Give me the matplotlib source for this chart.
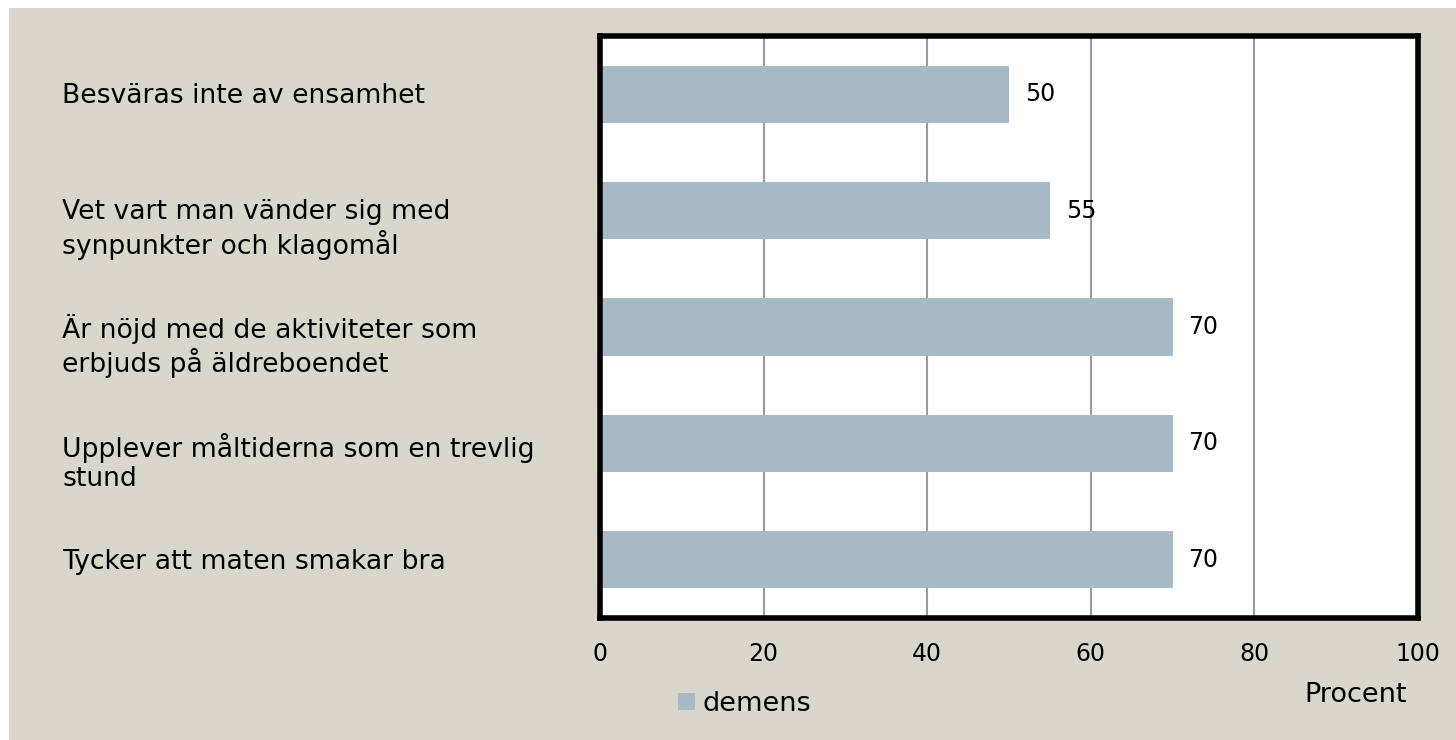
import matplotlib.pyplot as plt
from matplotlib.patches import Rectangle
from matplotlib.transforms import blended_transform_factory

# Data
categories = [
    'Besväras inte av ensamhet',
    'Vet vart man vänder sig med\nsynpunkter och klagomål',
    'Är nöjd med de aktiviteter som\nerbjuds på äldreboendet',
    'Upplever måltiderna som en trevlig\nstund',
    'Tycker att maten smakar bra',
]
values = [50, 55, 70, 70, 70]
series_name = 'demens'
x_ticks = [0, 20, 40, 60, 80, 100]

bg = '#D9D7CB'
bar_color = '#A7BAC5'
plt.rcParams['font.family'] = ['DejaVu Sans']

W, H = 1456, 740
fig = plt.figure(figsize=(W / 100, H / 100), dpi=100)
fig.patch.set_facecolor('white')
# beige panel, white strip at top and left
fig.patches.append(Rectangle((9 / W, 0), 1 - 9 / W, 1 - 8 / H, transform=fig.transFigure,
                             facecolor=bg, edgecolor='none', zorder=-10))

ax = fig.add_axes([600 / W, 1 - 618 / H, 818 / W, 582 / H])
ax.set_facecolor('white')

y = list(range(len(categories)))
ax.barh(y, values, height=0.49, color=bar_color, label=series_name, zorder=2)
ax.set_ylim(len(categories) - 0.5, -0.5)
ax.set_xlim(0, 100)
ax.set_xticks(x_ticks)
ax.xaxis.grid(True, color='#9A9A9A', linewidth=1.5, zorder=1)
ax.set_axisbelow(True)

for spine in ax.spines.values():
    spine.set_linewidth(4)
    spine.set_color('black')

ax.tick_params(axis='x', length=0, pad=17, labelsize=17)
ax.tick_params(axis='y', length=0)
ax.set_yticks(y)
ax.set_yticklabels([])

# category labels, left aligned in the beige margin; first line sits near the bar centre
trans = blended_transform_factory(fig.transFigure, ax.transData)
for yi, lab in zip(y, categories):
    nlines = lab.count('\n') + 1
    ax.annotate(lab, (62 / W, yi), xycoords=trans,
                xytext=(0, -(2 + 17 * (nlines - 1))), textcoords='offset pixels',
                ha='left', va='center', fontsize=19.2, linespacing=1.18, annotation_clip=False)

for yi, v in zip(y, values):
    ax.annotate(str(v), (v, yi), xytext=(16, 0), textcoords='offset pixels',
                ha='left', va='center', fontsize=17, zorder=3)

fig.text(1356 / W, 1 - 695 / H, 'Procent', ha='center', va='center', fontsize=19.5)

leg = fig.legend(loc='center', bbox_to_anchor=(745 / W, 1 - 704 / H), frameon=False,
                 fontsize=19.5, handlelength=0.6, handleheight=0.6, handletextpad=0.3)

fig.savefig('out.png', dpi=100, facecolor=fig.get_facecolor())
